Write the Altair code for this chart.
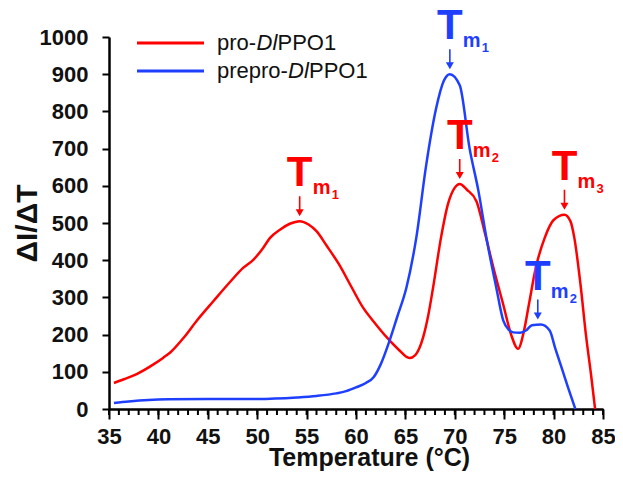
import altair as alt
import pandas as pd

# ---- data ----
red_t = [35.5, 36.5, 37.8, 39.5, 40.5, 41.2, 42.6, 43.9, 45.6, 47.2, 48.6, 49.6, 50.6, 51.3, 52.3, 53.3, 54.3,
         55.2, 56.0, 57.0, 58.3, 59.5, 60.7, 62.0, 63.1, 64.3, 65.4, 66.0, 66.8, 67.3, 67.8, 68.6, 69.3, 70.0,
         70.5, 71.2, 72.2, 73.0, 74.0, 74.9, 75.7, 76.4, 77.0, 77.5, 78.2, 79.1, 80.0, 81.1, 81.7, 82.1, 82.7,
         83.3, 83.8, 84.2]
red_v = [70, 80, 94, 120, 138, 152, 193, 238, 291, 340, 380, 401, 433, 460, 482, 498, 505,
         496, 478, 440, 388, 330, 273, 228, 193, 160, 137, 145, 193, 250, 326, 460, 550, 595,
         605, 590, 558, 478, 370, 281, 200, 162, 210, 281, 380, 460, 508, 522, 505, 460, 340,
         193, 90, 0]

blue_t = [35.5, 37.0, 39.0, 41.0, 45.0, 50.0, 54.0, 56.0, 58.0, 59.0, 60.0, 61.0, 61.8, 62.5, 63.4, 64.2,
          65.1, 66.1, 67.1, 68.1, 68.9, 69.5, 70.5, 71.5, 72.4, 73.2, 74.2, 74.9, 75.5, 75.9, 76.6, 77.2,
          77.8, 78.7, 79.6, 80.2, 80.9, 81.5, 82.2]
blue_v = [16, 20, 24, 26, 27, 27, 31, 35, 42, 48, 58, 70, 86, 120, 184, 250,
          326, 460, 655, 807, 883, 900, 870, 700, 585, 460, 326, 238, 212, 206, 205, 211,
          225, 227, 211, 160, 104, 55, 0]

series_names = ["pro", "prepro"]
series_colors = ["#ff0000", "#1f3fff"]

ann_series = ["pro", "prepro", "pro", "pro", "prepro"]
ann_t = [54.3, 69.5, 70.5, 81.1, 78.4]
ann_v = [505, 900, 605, 522, 227]
ann_sub = ["1", "1", "2", "3", "2"]

x_major = list(range(35, 86, 5))
x_minor = list(range(35, 86, 1))
y_ticks = list(range(0, 1001, 100))

FONT = "Liberation Sans"
W, H = 494, 372

df = pd.DataFrame(
    {"series": ["pro"] * len(red_t) + ["prepro"] * len(blue_t),
     "temp": red_t + blue_t,
     "value": red_v + blue_v}
)
ann = pd.DataFrame({"series": ann_series, "temp": ann_t, "value": ann_v, "sub": ann_sub})
minor = pd.DataFrame({"temp": x_minor})

xs = alt.Scale(domain=[35, 85], nice=False, zero=False)
ys = alt.Scale(domain=[0, 1000], nice=False)
cs = alt.Scale(domain=series_names, range=series_colors)

x_axis = alt.Axis(
    orient="bottom", values=x_major, tickSize=10, tickWidth=2, tickColor="black",
    domainColor="black", domainWidth=2.5, grid=False,
    labelFont=FONT, labelFontSize=22, labelFontWeight="bold", labelColor="#111111",
    labelPadding=7, labelFlush=False,
    title="Temperature (°C)", titleFont=FONT, titleFontSize=25, titleFontWeight="bold",
    titleColor="#111111", titleX=260, titleY=56, titleBaseline="alphabetic", titleAlign="center")
y_axis = alt.Axis(
    values=y_ticks, format="d", tickSize=7, tickWidth=2, tickColor="black",
    domainColor="black", domainWidth=2.5, grid=False,
    labelFont=FONT, labelFontSize=22, labelFontWeight="bold", labelColor="#111111",
    labelPadding=14,
    title="ΔI/ΔT", titleFont=FONT, titleFontSize=30, titleFontWeight="bold",
    titleColor="#111111", titleAngle=270, titleX=-73, titleY=H / 2,
    titleBaseline="alphabetic", titleAlign="center")

X = alt.X("temp:Q", scale=xs, axis=x_axis)
Y = alt.Y("value:Q", scale=ys, axis=y_axis)
C = alt.Color("series:N", scale=cs, legend=None)

minor_ticks = alt.Chart(minor).mark_rule(color="black", strokeWidth=2).encode(
    x=X, y=alt.value(H), y2=alt.value(H + 6))

lines = alt.Chart(df).mark_line(strokeWidth=2.5, interpolate="monotone").encode(x=X, y=Y, color=C)

t_big = alt.Chart(ann).mark_text(text="T", font=FONT, fontSize=42, fontWeight="bold",
                                 align="center", baseline="alphabetic", dy=-35).encode(x=X, y=Y, color=C)
t_m = alt.Chart(ann).mark_text(text="m", font=FONT, fontSize=20, fontWeight="bold",
                               align="left", baseline="alphabetic", dx=13, dy=-27).encode(x=X, y=Y, color=C)
t_sub = alt.Chart(ann).mark_text(font=FONT, fontSize=13, fontWeight="bold",
                                 align="left", baseline="alphabetic", dx=32, dy=-22).encode(
    x=X, y=Y, color=C, text="sub:N")

arrow_path = "M-0.08,-1 L0.08,-1 L0.08,0.3 L0.4,0.3 L0,1 L-0.4,0.3 L-0.08,0.3 Z"
arrows = alt.Chart(ann).mark_point(shape=arrow_path, size=400, filled=True, opacity=1,
                                   strokeWidth=0, yOffset=-15).encode(x=X, y=Y, color=C)

one = alt.Data(values=[{}])


def leg_line(color, y):
    return alt.Chart(one).mark_rule(color=color, strokeWidth=3).encode(
        x=alt.value(28), x2=alt.value(95), y=alt.value(y))


def leg_text(txt, x, y, italic=False):
    return alt.Chart(one).mark_text(text=txt, font=FONT, fontSize=22, color="#111111",
                                    fontStyle="italic" if italic else "normal",
                                    align="left", baseline="alphabetic").encode(
        x=alt.value(x), y=alt.value(y))


legend = [
    leg_line(series_colors[0], 6), leg_line(series_colors[1], 34),
    leg_text("pro-", 108, 13), leg_text("Dl", 147.5, 13, True), leg_text("PPO1", 168.5, 13),
    leg_text("prepro-", 108, 41), leg_text("Dl", 179, 41, True), leg_text("PPO1", 200, 41),
]

chart = alt.layer(minor_ticks, lines, t_big, t_m, t_sub, arrows, *legend).properties(
    width=W, height=H,
    autosize=alt.AutoSizeParams(type="none"),
    padding={"left": 101, "top": 29, "right": 12, "bottom": 62},
).configure_view(stroke=None)

chart.save("out.html", embed_options={"renderer": "svg", "actions": False})
